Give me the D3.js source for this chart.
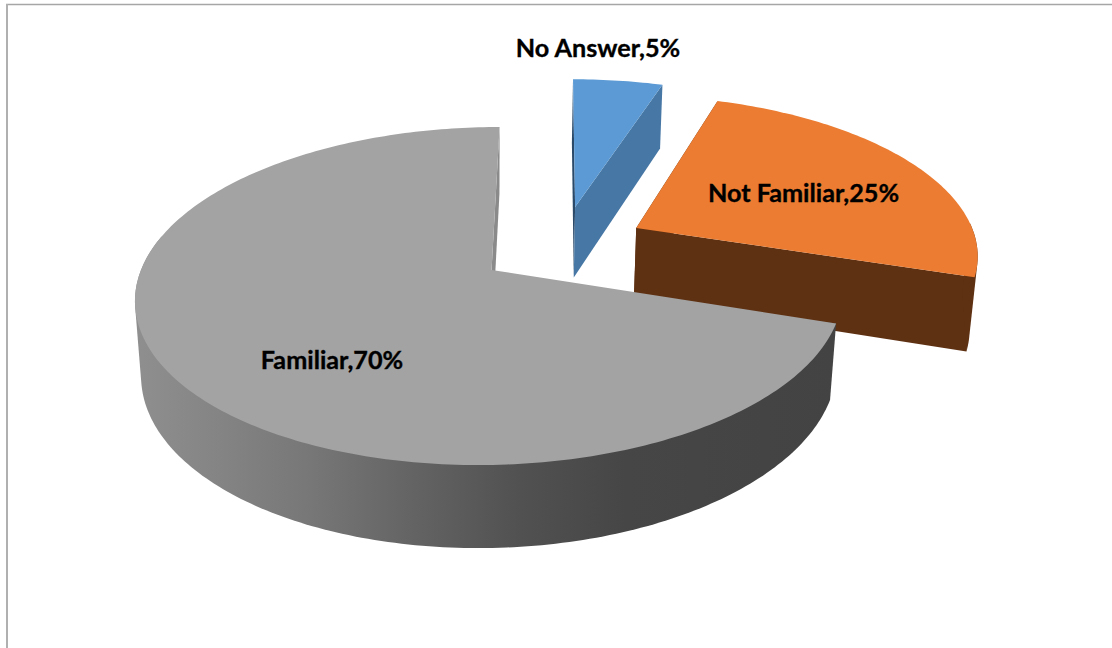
<!DOCTYPE html>
<html>
<head>
<meta charset="utf-8">
<script src="https://cdn.jsdelivr.net/npm/d3@7/dist/d3.min.js"></script>
<style>
html,body{margin:0;padding:0;background:#fff;overflow:hidden}
svg{display:block}
text{font-family:Lato,"Open Sans",sans-serif;font-weight:700;fill:#000;stroke:#000;stroke-width:0.35px;text-anchor:middle}
</style>
</head>
<body>
<script>
// Data
const categories = ["No Answer", "Not Familiar", "Familiar"];
const percentages = [5, 25, 70];

// Styles and layout, in category order
const topColors = ["#5b9ad5", "#eb7c31", "#a3a3a3"];
const faceColors = ["#4677a5", "#5f3113", "#8a8a8a"];
const explodeU = [0.245, 0.426, 0.003];
const explodeV = [0.406, 0.265, 0];
const labelX = [598, 803.5, 332];
const labelY = [48, 193, 360];

const W = 1112, H = 648;
const svg = d3.select("body").append("svg").attr("width", W).attr("height", H);

// Frame
svg.append("line").attr("x1", 6).attr("x2", W).attr("y1", 4.5).attr("y2", 4.5)
  .attr("stroke", "#a6a6a6").attr("stroke-width", 1.3);
svg.append("line").attr("x1", 7).attr("x2", 7).attr("y1", 4).attr("y2", H)
  .attr("stroke", "#b0b0b0").attr("stroke-width", 2);

// Perspective projection of the disc: u to the right, v away from viewer, z downward (0 = top, 1 = bottom)
const cam = {x: 490.5, y: 270, rx: 349.5, ry: 165, skew: 10.5, k: 0.154, m: 0.017, depth: 75};
function project(u, v, z) {
  const w = 1 + cam.k * v + cam.m * z;
  return [cam.x + (cam.rx * u + cam.skew * v) / w,
          cam.y - (cam.ry * v - cam.depth * z) / w];
}

const slices = d3.pie().sort(null).value(d => d)
  .startAngle(0).endAngle(2 * Math.PI)(percentages);

const line = d3.line().curve(d3.curveLinear);
const deg = Math.PI / 180;
function rim(s, i, a0, a1, z) {
  const n = Math.max(1, Math.round(Math.abs(a1 - a0) / deg));
  return d3.range(n + 1).map(j => {
    const a = a0 + (a1 - a0) * j / n;
    const ou = i === 2 ? 0 : explodeU[i], ov = i === 2 ? 0 : explodeV[i];
    return project(ou + Math.sin(a), ov + Math.cos(a), z);
  });
}
const apex = (i, z) => project(explodeU[i], explodeV[i], z);

const defs = svg.append("defs");
const grad = defs.append("linearGradient").attr("id", "sideGray")
  .attr("gradientUnits", "userSpaceOnUse").attr("x1", 135).attr("x2", 836).attr("y1", 0).attr("y2", 0);
[[0, "#8f8f8f"], [0.12, "#848484"], [0.25, "#777777"], [0.4, "#636363"], [0.55, "#515151"], [0.7, "#464646"], [1, "#434343"]]
  .forEach(([o, c]) => grad.append("stop").attr("offset", o).attr("stop-color", c));

function drawSlice(i) {
  const s = slices[i];
  const a0 = s.startAngle, a1 = s.endAngle;
  const g = svg.append("g").attr("class", "slice");
  // face along the start edge (the large slice's start face looks away from the viewer)
  if (i !== 2) {
    g.append("path")
      .attr("d", line([apex(i, 0), rim(s, i, a0, a0, 0)[0], rim(s, i, a0, a0, 1)[0], apex(i, 1)]) + "Z")
      .attr("fill", i === 0 ? "#2b4a6a" : faceColors[i]);
  }
  // face along the end edge
  g.append("path")
    .attr("d", line([apex(i, 0), rim(s, i, a1, a1, 0)[0], rim(s, i, a1, a1, 1)[0], apex(i, 1)]) + "Z")
    .attr("fill", faceColors[i]);
  // curved outer wall: hull of the rims, so the silhouette has no overhang
  const wallA0 = Math.max(a0, 88 * deg), wallA1 = Math.min(a1, 282 * deg);
  if (wallA1 > wallA0) {
    const hull = d3.polygonHull(rim(s, i, wallA0, wallA1, 0).concat(rim(s, i, wallA0, wallA1, 1)));
    g.append("path").attr("d", line(hull) + "Z")
      .attr("fill", i === 2 ? "url(#sideGray)" : faceColors[i]);
  }
  // top surface
  g.append("path")
    .attr("d", line([apex(i, 0)].concat(rim(s, i, a0, a1, 0))) + "Z")
    .attr("fill", topColors[i]);
}

drawSlice(1);
drawSlice(0);
drawSlice(2);

svg.selectAll("text.lbl").data(categories).join("text").attr("class", "lbl")
  .attr("x", (d, i) => labelX[i])
  .attr("y", (d, i) => labelY[i])
  .attr("dy", "0.35em")
  .attr("font-size", 25.2)
  .text((d, i) => `${d},${percentages[i]}%`);
</script>
</body>
</html>
